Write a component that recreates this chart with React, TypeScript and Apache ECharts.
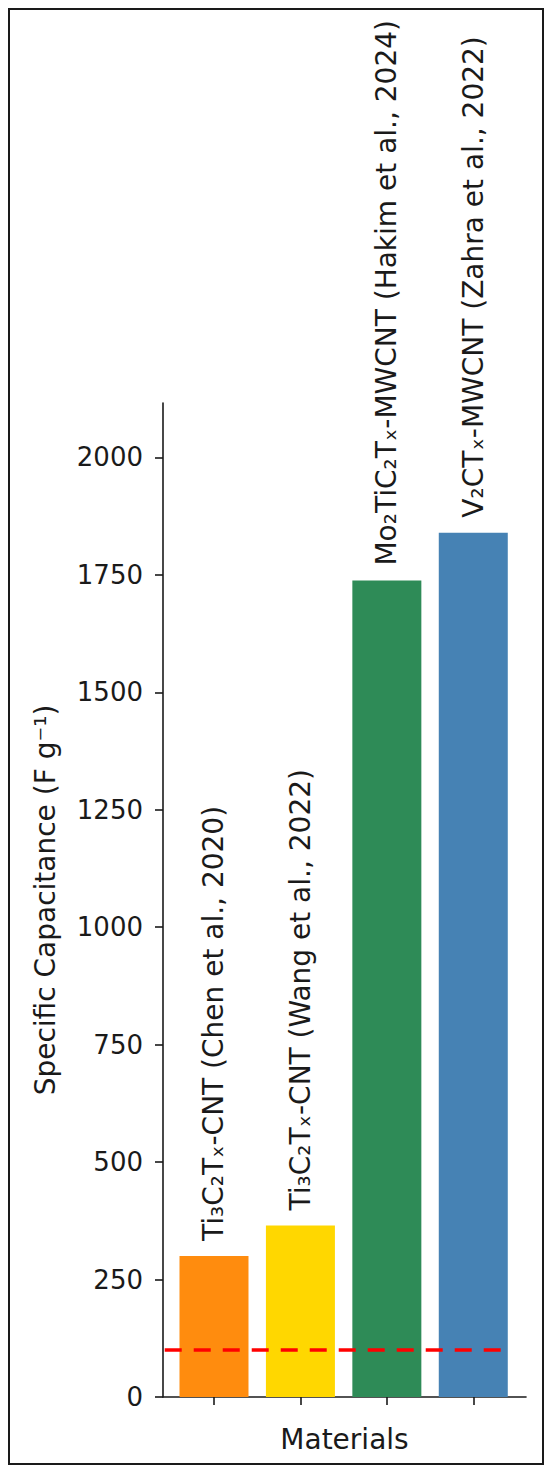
import React, { useEffect, useRef } from "react";
import * as echarts from "echarts";

const categories = [
  "Ti₃C₂Tₓ-CNT (Chen et al., 2020)",
  "Ti₃C₂Tₓ-CNT (Wang et al., 2022)",
  "Mo₂TiC₂Tₓ-MWCNT (Hakim et al., 2024)",
  "V₂CTₓ-MWCNT (Zahra et al., 2022)",
];
const capacitance = [300, 365, 1738, 1840];
const barColors = ["#FF8C0E", "#FFD700", "#2E8B57", "#4682B4"];
const referenceLevel = 100;
const yTicks = { min: 0, max: 2116, interval: 250 };

const FONT = "DejaVu Sans";

export default function App() {
  const ref = useRef<HTMLDivElement>(null);
  useEffect(() => {
    if (!ref.current) return;
    const chart = echarts.init(ref.current, undefined, { renderer: "svg" });
    chart.setOption({
      animation: false,
      backgroundColor: "#ffffff",
      textStyle: { fontFamily: FONT },
      graphic: [
        {
          type: "rect",
          shape: { x: 9, y: 9, width: 534, height: 1455 },
          style: { fill: "none", stroke: "#1a1a1a", lineWidth: 2 },
          silent: true,
        },
      ],
      grid: { left: 163, top: 403, width: 363, height: 994, containLabel: false },
      xAxis: {
        type: "value",
        min: -0.59,
        max: 3.61,
        name: "Materials",
        nameLocation: "middle",
        nameGap: 28,
        nameTextStyle: { fontSize: 28, color: "#1a1a1a", fontFamily: FONT },
        axisLine: { show: true, onZero: false, lineStyle: { color: "#1a1a1a", width: 1.6 } },
        axisTick: {
          show: true,
          customValues: categories.map((_, i) => i),
          length: 8,
          lineStyle: { color: "#1a1a1a", width: 1.6 },
        },
        axisLabel: { show: false },
        splitLine: { show: false },
      },
      yAxis: {
        type: "value",
        min: yTicks.min,
        max: yTicks.max,
        interval: yTicks.interval,
        name: "Specific Capacitance (F g⁻¹)",
        nameLocation: "middle",
        nameRotate: 90,
        nameGap: 104,
        nameTextStyle: { fontSize: 28, color: "#1a1a1a", fontFamily: FONT },
        axisLine: { show: true, onZero: false, lineStyle: { color: "#1a1a1a", width: 1.6 } },
        axisTick: { show: true, length: 8, lineStyle: { color: "#1a1a1a", width: 1.6 } },
        axisLabel: {
          fontSize: 26,
          color: "#1a1a1a",
          margin: 20,
          fontFamily: FONT,
          showMaxLabel: false,
          formatter: (v: number) => String(v),
        },
        splitLine: { show: false },
      },
      series: [
        {
          type: "bar",
          barWidth: 69,
          data: capacitance.map((v, i) => ({
            value: [i, v],
            itemStyle: { color: barColors[i] },
          })),
          label: {
            show: true,
            position: "top",
            rotate: 90,
            align: "left",
            verticalAlign: "middle",
            distance: 15,
            fontSize: 28,
            color: "#1a1a1a",
            fontFamily: FONT,
            formatter: (p: any) => categories[p.dataIndex],
          },
          markLine: {
            silent: true,
            symbol: ["none", "none"],
            label: { show: false },
            lineStyle: { color: "#FF0000", type: [17, 12], width: 3.5 },
            data: [
              [
                { coord: [-0.57, referenceLevel] },
                { coord: [3.4, referenceLevel] },
              ],
            ],
          },
        },
      ],
    });
    return () => chart.dispose();
  }, []);
  return (
    <div
      ref={ref}
      style={{ position: "absolute", left: 0, top: 0, width: 550, height: 1473 }}
    />
  );
}
